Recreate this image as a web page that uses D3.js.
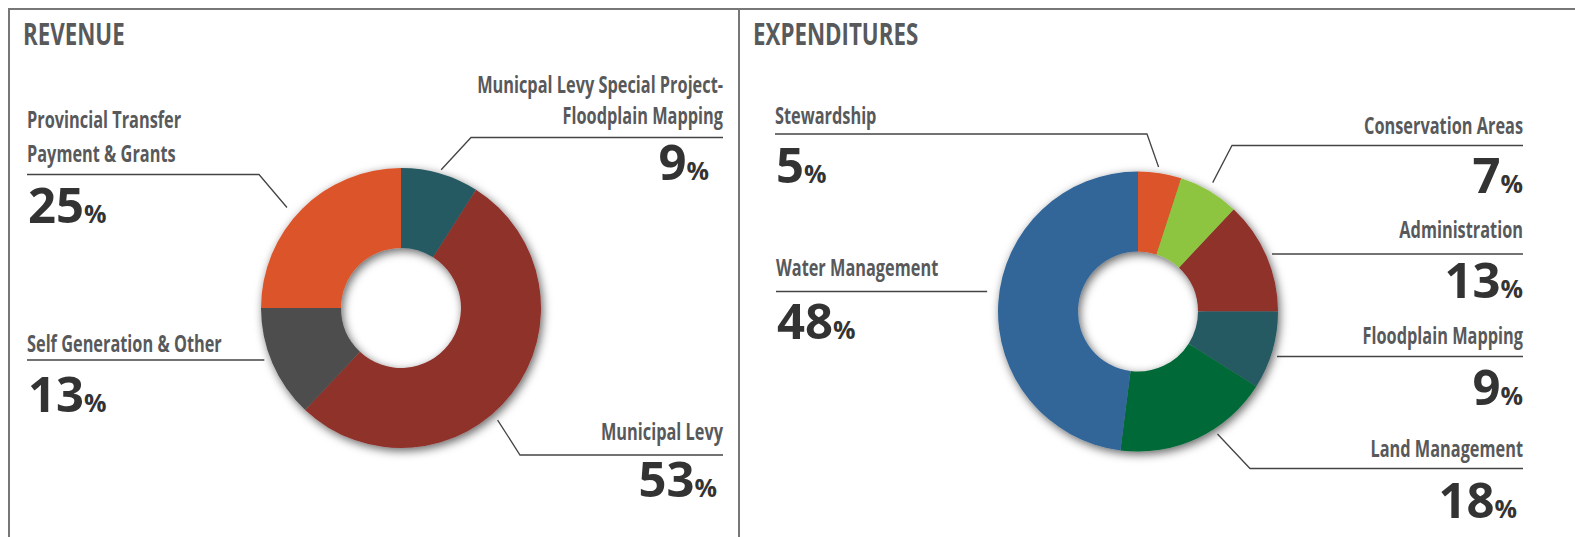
<!doctype html>
<html>
  <head>
    <meta charset="utf-8">
    <title>Revenue &amp; Expenditures</title>
    <script src="https://cdn.jsdelivr.net/npm/d3@7"></script>
    <style>
      body { margin: 0; background: #fff; }
      text { font-family: "Open Sans", sans-serif; }
    </style>
  </head>
  <body>
    <script>
      const svgWidth = 1575;
      const svgHeight = 537;

      // revenue
      const revenueNames = [
        ['Municpal Levy Special Project-', 'Floodplain Mapping'],
        ['Municipal Levy'],
        ['Self Generation & Other'],
        ['Provincial Transfer', 'Payment & Grants']
      ];
      const revenueValues = [9, 53, 13, 25];
      const revenueColors = ['#275a64', '#8e302c', '#4d4d4d', '#dc542b'];

      // expenditures
      const expenseNames = [
        ['Stewardship'],
        ['Conservation Areas'],
        ['Administration'],
        ['Floodplain Mapping'],
        ['Land Management'],
        ['Water Management']
      ];
      const expenseValues = [5, 7, 13, 9, 18, 48];
      const expenseColors = ['#dc542b', '#8dc540', '#8e302c', '#275a64', '#036937', '#336699'];

      // label placement (side, text x, baselines, underline y, elbow x, leader radius, position in slice)
      const revenueLayout = [
        { side: 'right', x: 723, lines: [92.5, 123.5], lineY: 137.5, elbow: 471, r: 144, at: 0.5, numY: 180, numDx: -14 },
        { side: 'right', x: 723, lines: [439.5], lineY: 455, elbow: 520, r: 148, at: 0.56, numY: 497, numDx: -6 },
        { side: 'left', x: 27, lines: [352], lineY: 360, elbow: null, r: 146, at: 0.56, numY: 412, numDx: 1 },
        { side: 'left', x: 27, lines: [128, 162], lineY: 174.5, elbow: 259, r: 152, at: 0.46, numY: 223, numDx: 1 }
      ];
      const expenseLayout = [
        { side: 'left', x: 775, lines: [123.5], lineY: 134, elbow: 1147, r: 146, at: 0.45, numY: 183, numDx: 1 },
        { side: 'right', x: 1523, lines: [133.5], lineY: 145.5, elbow: 1232, r: 149, at: 0.48, numY: 193, numDx: 0 },
        { side: 'right', x: 1523, lines: [237.5], lineY: 254, elbow: null, r: 146, at: 0.5, numY: 298, numDx: 0 },
        { side: 'right', x: 1523, lines: [343.5], lineY: 356.5, elbow: null, r: 146, at: 0.55, numY: 405, numDx: 0 },
        { side: 'right', x: 1523, lines: [456.5], lineY: 468.5, elbow: 1250, r: 146, at: 0.38, numY: 518, numDx: -6 },
        { side: 'left', x: 776, lines: [276], lineY: 291.5, elbow: null, r: 152, at: 0.52, numY: 339, numDx: 1 }
      ];

      const outerR = 140;
      const innerR = 60;
      const labelScale = 0.71;
      const titleScale = 0.72;

      const svg = d3.select('body').append('svg')
          .attr('width', svgWidth)
          .attr('height', svgHeight);

      // drop shadow
      const filter = svg.append('defs').append('filter')
          .attr('id', 'shadow')
          .attr('x', '-30%').attr('y', '-30%')
          .attr('width', '160%').attr('height', '160%');
      filter.append('feDropShadow')
          .attr('dx', 2).attr('dy', 3)
          .attr('stdDeviation', 5)
          .attr('flood-color', '#000')
          .attr('flood-opacity', 0.6);

      // frame
      svg.append('path')
          .attr('d', `M9,${svgHeight} V9 H${svgWidth} M739,9 V${svgHeight}`)
          .attr('fill', 'none')
          .attr('stroke', '#777')
          .attr('stroke-width', 2);

      drawTitle('REVENUE', 23);
      drawTitle('EXPENDITURES', 753);

      drawDonut(401, 308, revenueValues, revenueColors, revenueNames, revenueLayout);
      drawDonut(1138, 311.5, expenseValues, expenseColors, expenseNames, expenseLayout);

      function drawTitle(txt, x) {
        svg.append('text')
            .attr('transform', `translate(${x},45) scale(${titleScale},1)`)
            .attr('font-size', 31)
            .attr('font-weight', 700)
            .attr('fill', '#58595b')
            .text(txt);
      }

      function drawDonut(cx, cy, values, colors, names, layout) {
        const arcs = d3.pie().sort(null).value(d => d)(values);
        const arc = d3.arc().innerRadius(innerR).outerRadius(outerR);

        svg.append('g')
            .attr('transform', `translate(${cx},${cy})`)
            .attr('filter', 'url(#shadow)')
          .selectAll('path')
          .data(arcs)
          .enter().append('path')
            .attr('d', arc)
            .attr('fill', (d, i) => colors[i]);

        arcs.forEach((d, i) => {
          const L = layout[i];
          const a = d.startAngle + (d.endAngle - d.startAngle) * L.at;
          const px = cx + L.r * Math.sin(a);
          const py = cy - L.r * Math.cos(a);
          const anchor = L.side === 'left' ? 'start' : 'end';

          // leader line
          const pts = L.elbow === null
            ? [[L.x, L.lineY], [px, L.lineY]]
            : [[L.x, L.lineY], [L.elbow, L.lineY], [px, py]];
          svg.append('path')
              .attr('d', d3.line()(pts))
              .attr('fill', 'none')
              .attr('stroke', '#444')
              .attr('stroke-width', 1.3);

          // name
          names[i].forEach((n, j) => {
            svg.append('text')
                .attr('transform', `translate(${L.x},${L.lines[j]}) scale(${labelScale},1)`)
                .attr('text-anchor', anchor)
                .attr('font-size', 23)
                .attr('font-weight', 700)
                .attr('fill', '#58595b')
                .text(n);
          });

          // percentage
          const num = svg.append('text')
              .attr('x', L.x + L.numDx)
              .attr('y', L.numY)
              .attr('text-anchor', anchor)
              .attr('font-weight', 700)
              .attr('fill', '#333');
          num.append('tspan').attr('font-size', 49).text(values[i]);
          num.append('tspan').attr('font-size', 25).text('%');
        });
      }
    </script>
  </body>
</html>
